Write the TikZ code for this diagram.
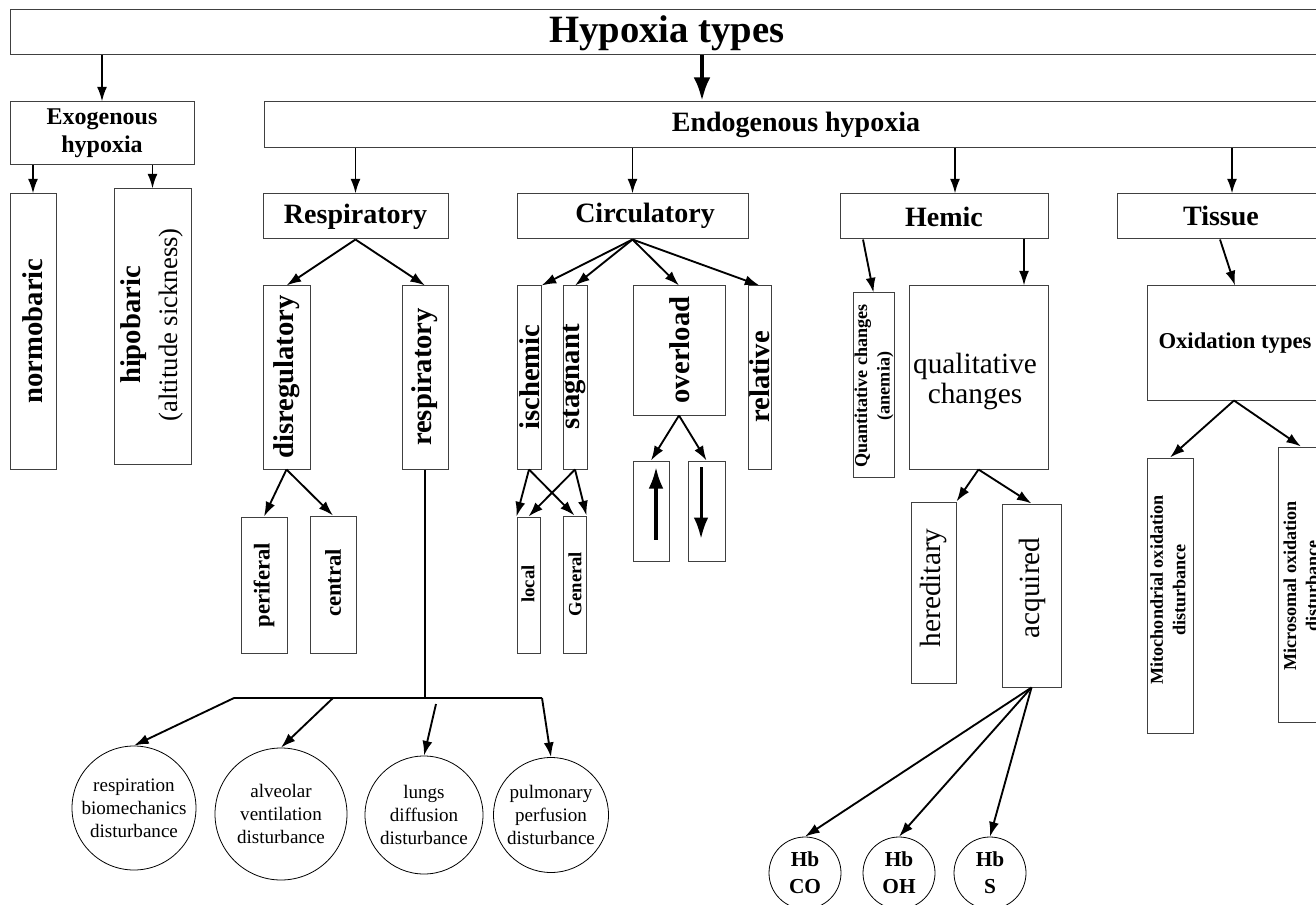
\documentclass[tikz,border=0pt]{standalone}
\usepackage{fontspec}
\setmainfont{Liberation Serif}
\usetikzlibrary{arrows.meta}

\begin{document}
\begin{tikzpicture}[x=0.75pt, y=-0.75pt, >={Latex[length=11pt,width=7.5pt]},
  box/.style 2 args={draw=black!75, line width=0.75pt, minimum width=#1*0.75pt,
    minimum height=#2*0.75pt, inner sep=0pt},
  ball/.style={draw=black, line width=0.6pt, circle, minimum size=#1*1.5pt,
    inner sep=0pt, align=center},
  arr/.style={->, line width=1.4pt},
  ttl/.style={font=\bfseries\fontsize{29}{34}\selectfont},
  hd/.style={font=\bfseries\fontsize{21}{25}\selectfont},
  big/.style={rotate=90, align=center, font=\bfseries\fontsize{21.5}{28}\selectfont},
  mid/.style={rotate=90, font=\bfseries\fontsize{17}{20}\selectfont},
  tiny/.style={rotate=90, font=\bfseries\fontsize{14}{17}\selectfont},
  sml/.style={rotate=90, align=center, font=\bfseries\fontsize{13.6}{16.8}\selectfont},
  thin/.style={rotate=90, font=\fontsize{22}{26}\selectfont},
  txt/.style={font=\fontsize{14.3}{17.2}\selectfont},
  hb/.style={font=\bfseries\fontsize{16}{20}\selectfont}]
\useasboundingbox (0,0) rectangle (1316,905);
\clip (0,0) rectangle (1316,905);

% boxes: name / centre x / centre y / width / height (pixels)
\foreach \n/\x/\y/\w/\h in {
types/670/32.5/1320/45, endo/797/125/1066/46,
circ/632.5/216.5/231/45, tissue/1223.5/216.5/213/45,
normo/33/331.5/46/275, hipo/152.5/326.5/77/275,
disreg/286.5/377.5/47/183, respv/425/377.5/46/183,
perif/264/585/46/136, centr/333/584.5/46/137,
isch/529/377.5/24/183, stag/575/377.5/24/183,
over/679/350.5/92/129, rel/759.5/377.5/23/183,
up/651/511/36/100, down/706.5/511/37/100,
local/528.5/585/23/136, gen/574.5/584.5/23/137,
quant/873.5/385/41/184, qual/978.5/377.5/139/183,
hered/933.5/592.5/45/181, acq/1031.5/595.5/59/183,
oxid/1238.5/343/183/114,
mito/1170/595.5/46/275, micro/1301/584.5/46/275}
\node[box={\w}{\h}] (\n) at (\x,\y) {};

% boxes that hold their own text
\node[box={184}{63}, align=center, font=\bfseries\fontsize{18}{21}\selectfont]
  (exo) at (102,133.5) {Exogenous\\hypoxia};
\node[box={185}{45}, hd] (resp) at (355.5,216.5) {Respiratory};
\node[box={208}{45}, hd] (hemic) at (944,216.5) {Hemic};

% the texts
\node[ttl] (typeslbl) at (667,33) {Hypoxia types};
\node[hd] (endolbl) at (796,125) {Endogenous hypoxia};
\node[hd] (circlbl) at (645,216) {Circulatory};
\node[hd] (tissuelbl) at (1221,216) {Tissue};
\node[big] (normolbl) at (33,331) {normobaric};
\node[big] (hipolbl) at (152,325) {hipobaric\\{\mdseries\fontsize{20}{28}\selectfont(altitude sickness)}};
\node[big] (disreglbl) at (286.5,377) {disregulatory};
\node[big] (respvlbl) at (425,377) {respiratory};
\node[mid] (periflbl) at (264,585) {periferal};
\node[mid] (centrlbl) at (333,583) {central};
\node[big] (ischlbl) at (530,377) {ischemic};
\node[big] (staglbl) at (575,377) {stagnant};
\node[big] (overlbl) at (680,350) {overload};
\node[big] (rellbl) at (760,377) {relative};
\node[tiny] (locallbl) at (528,584) {local};
\node[tiny] (genlbl) at (575,584) {General};
\node[sml] (quantlbl) at (874,386) {Quantitative changes\\(anemia)};
\node[align=center, font=\fontsize{22}{22.5}\selectfont] (quallbl) at (975,381) {qualitative\\changes};
\node[thin] (heredlbl) at (933,588) {hereditary};
\node[thin] (acqlbl) at (1032,588) {acquired};
\node[font=\bfseries\fontsize{17}{20}\selectfont] (oxidlbl) at (1235,343) {Oxidation types};
\node[sml] (mitolbl) at (1168,590) {Mitochondrial oxidation\\disturbance};
\node[sml] (microlbl) at (1301,586) {Microsomal oxidation\\disturbance};

% circles
\node[ball=62, txt] (c1) at (134,808) {respiration\\biomechanics\\disturbance};
\node[ball=66, txt] (c2) at (281,814) {alveolar\\ventilation\\disturbance};
\node[ball=59, txt] (c3) at (424,815) {lungs\\diffusion\\disturbance};
\node[ball=57.5, txt] (c4) at (551,815) {pulmonary\\perfusion\\disturbance};
\node[ball=36, hb] (hb1) at (805,873) {Hb\\CO};
\node[ball=36, hb] (hb2) at (899,873) {Hb\\OH};
\node[ball=36, hb] (hb3) at (990,873) {Hb\\S};

% arrows from the headers
\draw[arr] (exo.north |- types.south) -- (exo.north);
\draw[->, line width=3.5pt, >={Latex[length=18pt,width=12.5pt]}]
  (types.south -| 702,0) -- (endo.north -| 702,0);
\draw[arr] (normo.north |- exo.south) -- (normo.north);
\draw[arr] (hipo.north |- exo.south) -- (hipo.north);
\draw[arr] (resp.north |- endo.south) -- (resp.north);
\draw[arr] (circ.north |- endo.south) -- (circ.north);
\draw[arr] (endo.south -| 955,0) -- (hemic.north -| 955,0);
\draw[arr] (endo.south -| 1232,0) -- (tissue.north -| 1232,0);
\draw[arr] (hemic.south -| 863,0) -- (quant.north);
\draw[arr] (hemic.south -| 1024,0) -- (qual.north -| 1024,0);
\draw[arr] (tissue.south -| 1220,0) -- (oxid.north -| 1235,0);
\draw[arr] (oxid.south -| 1234,0) -- (mito.north);
\draw[arr] (oxid.south -| 1234,0) -- (micro.north);

% arrows between the boxes
\foreach \a/\b in {resp.south/disreg.north, resp.south/respv.north,
  circ.south/isch.north east, circ.south/stag.north,
  circ.south/over.north, circ.south/rel.north,
  over.south/up.north, over.south/down.north,
  disreg.south/perif.north, disreg.south/centr.north,
  isch.south/local.north west, isch.south/gen.north,
  stag.south/local.north, stag.south/gen.north east,
  qual.south/hered.north east, qual.south/acq.north,
  acq.south/hb1.north, acq.south/hb2.north, acq.south/hb3.north}
\draw[arr] (\a) -- (\b);

% up and down signs
\draw[->, line width=2.3pt, >={Latex[length=16pt,width=11pt]}]
  ([xshift=3.75pt, yshift=16.5pt]up.south) -- ([xshift=3.75pt, yshift=-5pt]up.north);
\draw[->, line width=2.3pt, >={Latex[length=16pt,width=11pt]}]
  ([xshift=-4.1pt, yshift=-5pt]down.north) -- ([xshift=-4.1pt, yshift=17pt]down.south);

% the respiratory branch
\coordinate (busL) at (234,698);
\coordinate (bus2) at (333,698);
\coordinate (bus3) at (436,704);
\coordinate (busR) at (542,698);
\draw[line width=1.4pt] (respv.south) -- (respv.south |- busL);
\draw[line width=1.4pt] (busL) -- (busR);
\draw[arr] (busL) -- (c1.north);
\draw[arr] (bus2) -- (c2.north);
\draw[arr] (bus3) -- (c3.north);
\draw[arr] (busR) -- (c4.north);
\end{tikzpicture}
\end{document}
